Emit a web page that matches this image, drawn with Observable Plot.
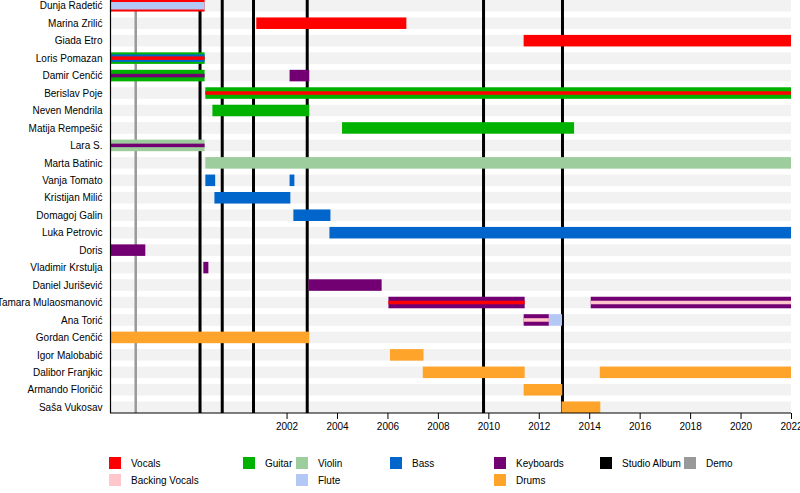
<!DOCTYPE html>
<html><head><meta charset="utf-8">
<script src="https://cdn.jsdelivr.net/npm/d3@7"></script>
<script src="https://cdn.jsdelivr.net/npm/@observablehq/plot@0.6"></script>
<style>
body{margin:0;background:#fff;font-family:"Liberation Sans",Arial,Helvetica,sans-serif;}
#wrap{position:relative;width:800px;height:493px;overflow:hidden;background:#fff;}
#chart{position:absolute;left:0;top:0;}
.lg{position:absolute;font-size:10px;line-height:12px;color:#000;white-space:nowrap;}
.sw{position:absolute;width:12px;height:12px;}
</style></head><body><div id="wrap"><div id="chart"></div><div id="legend"></div></div>
<script>
// ---- data ----
const members = [
  "Dunja Radetić","Marina Zrilić","Giada Etro","Loris Pomazan","Damir Cenčić","Berislav Poje",
  "Neven Mendrila","Matija Rempešić","Lara S.","Marta Batinic","Vanja Tomato","Kristijan Milić",
  "Domagoj Galin","Luka Petrovic","Doris","Vladimir Krstulja","Daniel Jurišević","Tamara Mulaosmanović",
  "Ana Torić","Gordan Cenčić","Igor Malobabić","Dalibor Franjkic","Armando Floričić","Saša Vukosav"
];
const instruments = ["Vocals","Backing Vocals","Guitar","Violin","Flute","Bass","Keyboards","Drums"];
const instrumentColors = ["#ff0000","#ffc6cc","#00b200","#9dcd9d","#b3c8f5","#0066cc","#730073","#ffa42a"];
const studioAlbums = [1998.55, 1999.43, 2000.67, 2002.8, 2009.79, 2012.92];
const demos = [1996.0];
const tickYears = [2002,2004,2006,2008,2010,2012,2014,2016,2018,2020,2022];
const timelineStart = 1995;
const timelineEnd = 2022;

// [member, instrument, start, end]
const primaryBars = [
  ["Dunja Radetić","Vocals",1995,1998.75],
  ["Marina Zrilić","Vocals",2000.8,2006.75],
  ["Giada Etro","Vocals",2011.4,2022],
  ["Loris Pomazan","Guitar",1995,1998.75],
  ["Damir Cenčić","Guitar",1995,1998.75],
  ["Damir Cenčić","Keyboards",2002.12,2002.9],
  ["Berislav Poje","Guitar",1998.78,2022],
  ["Neven Mendrila","Guitar",1999.06,2002.9],
  ["Matija Rempešić","Guitar",2004.2,2013.4],
  ["Lara S.","Violin",1995,1998.75],
  ["Marta Batinic","Violin",1998.78,2022],
  ["Vanja Tomato","Bass",1998.78,1999.17],
  ["Vanja Tomato","Bass",2002.12,2002.31],
  ["Kristijan Milić","Bass",1999.14,2002.15],
  ["Domagoj Galin","Bass",2002.27,2003.74],
  ["Luka Petrovic","Bass",2003.7,2022],
  ["Doris","Keyboards",1995,1996.4],
  ["Vladimir Krstulja","Keyboards",1998.7,1998.9],
  ["Daniel Jurišević","Keyboards",2002.87,2005.77],
  ["Tamara Mulaosmanović","Keyboards",2006.04,2011.44],
  ["Tamara Mulaosmanović","Keyboards",2014.06,2022],
  ["Ana Torić","Keyboards",2011.4,2012.4],
  ["Ana Torić","Flute",2012.4,2012.92],
  ["Gordan Cenčić","Drums",1995,2002.9],
  ["Igor Malobabić","Drums",2006.1,2007.43],
  ["Dalibor Franjkic","Drums",2007.4,2011.44],
  ["Dalibor Franjkic","Drums",2014.42,2022],
  ["Armando Floričić","Drums",2011.4,2012.93],
  ["Saša Vukosav","Drums",2012.9,2014.44]
];
const secondaryBars = [
  ["Dunja Radetić","Flute",1995,1998.75],
  ["Loris Pomazan","Bass",1995,1998.75],
  ["Damir Cenčić","Keyboards",1995,1998.75],
  ["Berislav Poje","Vocals",1998.78,2022],
  ["Lara S.","Keyboards",1995,1998.75],
  ["Tamara Mulaosmanović","Vocals",2006.04,2011.44],
  ["Tamara Mulaosmanović","Backing Vocals",2014.06,2022],
  ["Ana Torić","Backing Vocals",2011.4,2012.4]
];
const tertiaryBars = [
  ["Loris Pomazan","Vocals",1995,1998.75]
];

// ---- build ----
const toObj = a => a.map(([member, instrument, start, end]) => ({member, instrument, start, end}));
const prim = toObj(primaryBars), sec = toObj(secondaryBars), ter = toObj(tertiaryBars);
const wideInner = new Set(["Dunja Radetić", ...tertiaryBars.map(d => d[0])]);
const secWide = sec.filter(d => wideInner.has(d.member));
const secThin = sec.filter(d => !wideInner.has(d.member));

const W = 800, H = 438, mL = 110, mR = 9, mT = 0, mB = 25;
const barOpts = {x1: "start", x2: "end", y: "member", fill: "instrument"};

const plot = Plot.plot({
  width: W, height: H,
  marginLeft: mL, marginRight: mR, marginTop: mT, marginBottom: mB,
  style: {fontFamily: '"Liberation Sans", Arial, Helvetica, sans-serif', fontSize: "10px", color: "#000", background: "#fff", overflow: "visible"},
  x: {domain: [timelineStart, timelineEnd], label: null},
  y: {type: "band", domain: members, paddingInner: 0.34, paddingOuter: 0, round: false, label: null},
  color: {domain: instruments, range: instrumentColors},
  marks: [
    Plot.barX(members, {x1: () => timelineStart, x2: () => timelineEnd, y: d => d, fill: "#f2f2f2"}),
    Plot.ruleX(demos, {stroke: "#999999", strokeWidth: 2.5}),
    Plot.ruleX(studioAlbums, {stroke: "#000", strokeWidth: 3}),
    Plot.barX(prim, barOpts),
    Plot.barX(secWide, {...barOpts, insetTop: 2, insetBottom: 2}),
    Plot.barX(secThin, {...barOpts, insetTop: 4, insetBottom: 4}),
    Plot.barX(ter, {...barOpts, insetTop: 4, insetBottom: 4}),
    Plot.ruleX([timelineStart], {stroke: "#000", strokeWidth: 1.2}),
    Plot.axisX({ticks: tickYears, tickFormat: d => String(d), tickSize: 6, tickPadding: 3, fontSize: 10, label: null}),
    Plot.axisY({tickSize: 0, tickPadding: 8, fontSize: 10, label: null})
  ]
});

// bottom axis line via the x scale
const xs = plot.scale("x");
d3.select(plot).append("line")
  .attr("x1", xs.apply(timelineStart)).attr("x2", xs.apply(timelineEnd))
  .attr("y1", H - mB).attr("y2", H - mB)
  .attr("stroke", "#000").attr("stroke-width", 1.2);

document.getElementById("chart").appendChild(plot);

// ---- legend ----
const legendColumns = [
  ["Vocals","Backing Vocals"], ["Guitar"], ["Violin","Flute"], ["Bass"],
  ["Keyboards","Drums"], ["Studio Album"], ["Demo"]
];
const legendColor = name => name === "Studio Album" ? "#000" : name === "Demo" ? "#999999"
  : instrumentColors[instruments.indexOf(name)];
const colX = [109, 243, 296, 390, 494, 600, 684];
const rowY = [457, 474];
const lg = document.getElementById("legend");
legendColumns.forEach((col, ci) => col.forEach((name, ri) => {
  const sw = document.createElement("div");
  sw.className = "sw";
  sw.style.left = colX[ci] + "px"; sw.style.top = rowY[ri] + "px";
  sw.style.background = legendColor(name);
  lg.appendChild(sw);
  const t = document.createElement("div");
  t.className = "lg";
  t.style.left = (colX[ci] + 22) + "px"; t.style.top = (rowY[ri] + 1) + "px";
  t.textContent = name;
  lg.appendChild(t);
}));
</script></body></html>
